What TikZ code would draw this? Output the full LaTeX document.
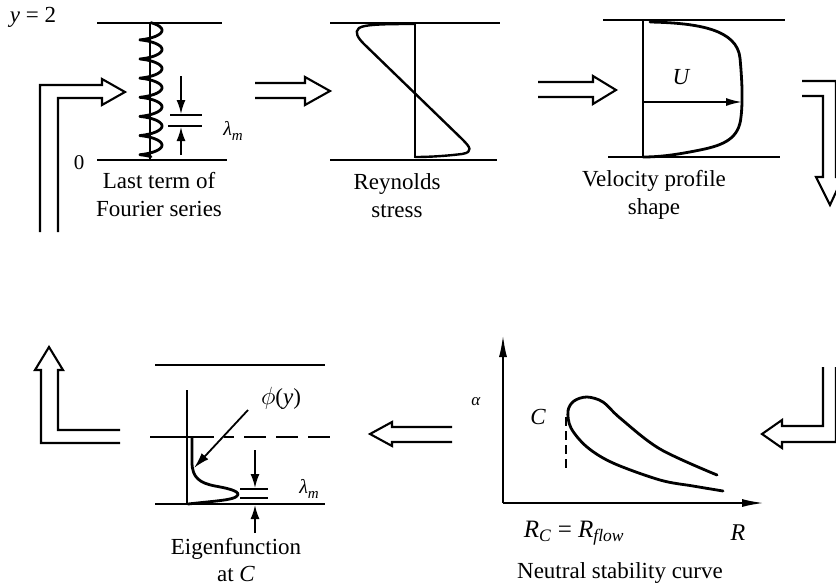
\documentclass[tikz,border=0pt]{standalone}
\usepackage{fontspec}
\setmainfont{Liberation Serif}
\usetikzlibrary{arrows.meta}
\newcommand{\lamm}{\textit{λ}\raisebox{-0.45ex}{\fontsize{15}{15}\selectfont\textit{m}}}
\begin{document}
\begin{tikzpicture}[x=1pt,y=-1pt,
  plate/.style={line width=2pt},
  curve/.style={line width=2.8pt,line cap=round,line join=round},
  hollow/.style={line width=2.1pt,line join=miter},
  lbl/.style={font=\fontsize{23}{28}\selectfont,align=center,inner sep=0pt},
  sym/.style={font=\fontsize{23}{23}\selectfont,inner sep=0pt},
  small/.style={font=\fontsize{20}{20}\selectfont,inner sep=0pt},
  tipline/.style={-{Latex[length=14pt,width=9pt]},line width=1.8pt},
  axis/.style={-{Latex[length=22pt,width=8pt]},line width=2pt}]
\useasboundingbox (0,0) rectangle (836,587);
\clip (0,0) rectangle (836,587);

% ---------------- Panel 1: last term of Fourier series
\draw[plate] (97,23) -- (222,23);
\draw[plate] (97,160) -- (227,160);
\draw[line width=1.8pt] (150,23) -- (150,160);
\draw[curve,line width=2.8pt] plot[domain=0:14*pi,samples=400,variable=\t]
  ({151+11*sin(\t r)},{25.5+134*\t/(14*pi)-2.8*cos(\t r)});
\coordinate (p1a) at (181,76);
\coordinate (p1b) at (181,114);
\coordinate (p1c) at (181,155);
\coordinate (p1d) at (181,127);
\draw[tipline] (p1a) -- (p1b);
\draw[tipline] (p1c) -- (p1d);
\draw[plate] (170,115) -- (202,115);
\draw[plate] (168,126) -- (202,126);
\node[small] (lam1) at (233,131) {\lamm};
\node[sym] (y2) at (33,17) {\textit{y} = 2};
\node[sym,font=\fontsize{21}{21}\selectfont] (zero) at (79,163) {0};
\node[lbl] (t1) at (159,195) {Last term of\\Fourier series};

% ---------------- Panel 2: Reynolds stress
\draw[plate] (330,23) -- (500,23);
\draw[plate] (330,160) -- (497,160);
\draw[line width=1.8pt] (415,23) -- (415,158);
\draw[curve,line width=2.4pt] (415,24) .. controls (390,24) and (365,24) .. (359,28)
  .. controls (354,32) and (358,38) .. (364,44) -- (462,139)
  .. controls (470,147) and (474,152) .. (462,154)
  .. controls (445,156) and (430,157) .. (415,157);
\node[lbl] (t2) at (397,196) {Reynolds\\stress};

% ---------------- Panel 3: velocity profile
\draw[plate] (603,20) -- (785,20);
\draw[plate] (608,157) -- (780,157);
\draw[line width=1.8pt] (643,20) -- (643,157);
\draw[curve] (650,22) .. controls (700,23) and (737,30) .. (740,58)
  .. controls (742,80) and (743,100) .. (741,117)
  .. controls (739,138) and (725,145) .. (700,150)
  .. controls (680,154) and (662,157) .. (643,157);
\coordinate (u0) at (643,102);
\coordinate (u1) at (742,102);
\draw[-{Latex[length=16pt,width=8pt]},line width=1.8pt] (u0) -- (u1);
\node[sym,font=\fontsize{23}{23}\selectfont\itshape] (U) at (681,77) {U};
\node[lbl] (t3) at (654,195) {Velocity profile\\shape};

% ---------------- Hollow arrows
\draw[hollow] (40,232) -- (40,85) -- (102,85) -- (102,79) -- (125,92) -- (102,105)
  -- (102,98) -- (58,98) -- (58,232);
\draw[hollow] (255,83) -- (305,83) -- (305,77) -- (330,91) -- (305,105) -- (305,98) -- (255,98);
\draw[hollow] (538,82) -- (593,82) -- (593,76) -- (616,90) -- (593,104) -- (593,97) -- (538,97);
\draw[hollow] (802,81) -- (836,81) -- (836,177) -- (843,177) -- (830,205) -- (816,177)
  -- (823,177) -- (823,96) -- (802,96);
\draw[hollow] (823,367) -- (823,426) -- (782,426) -- (782,420) -- (762,434) -- (782,448)
  -- (782,442) -- (836,442) -- (836,367);
\draw[hollow] (452,427) -- (392,427) -- (392,422) -- (370,434) -- (392,446) -- (392,442) -- (452,442);
\draw[hollow] (120,443) -- (41,443) -- (41,370) -- (35,370) -- (49,347) -- (63,370)
  -- (58,370) -- (58,430) -- (120,430);

% ---------------- Panel 4: eigenfunction
\draw[plate] (155,365) -- (325,365);
\draw[plate] (150,437) -- (192,437);
\draw[plate,dash pattern=on 22pt off 10pt on 10pt off 10pt on 22pt off 10pt on 22pt off 10pt] (192,437) -- (334,437);
\draw[plate] (155,504) -- (325,504);
\draw[line width=1.8pt] (187,390) -- (187,504);
\draw[curve] (192,438) -- (192,462) .. controls (192,478) and (200,483) .. (215,486)
  .. controls (232,489) and (241,492) .. (237,496)
  .. controls (234,500) and (215,501) .. (188,504);
\coordinate (phiA) at (248,410);
\coordinate (phiB) at (194,468);
\draw[-{Latex[length=16pt,width=9pt]},line width=1.8pt] (phiA) -- (phiB);
\node[sym] (phi) at (281,398) {$\phi$(\textit{y})};
\coordinate (p4a) at (255,450);
\coordinate (p4b) at (255,488);
\coordinate (p4c) at (255,533);
\coordinate (p4d) at (255,505);
\draw[tipline] (p4a) -- (p4b);
\draw[tipline] (p4c) -- (p4d);
\draw[plate] (240,489) -- (268,489);
\draw[plate] (240,498) -- (268,498);
\node[small] (lam2) at (309,489) {\lamm};
\node[lbl,font=\fontsize{23}{27}\selectfont] (t4) at (236,560) {Eigenfunction\\at \textit{C}};

% ---------------- Panel 5: neutral stability curve
\coordinate (O) at (503,503);
\coordinate (Ya) at (503,335);
\coordinate (Xa) at (764,503);
\draw[axis] (O) -- (Ya);
\draw[axis] (O) -- (Xa);
\draw[line width=2pt,dash pattern=on 9pt off 5pt] (566,417) -- (566,468);
\draw[curve] plot[smooth,tension=0.55] coordinates {(717,475) (660,449) (620,418) (603,402)
  (587,397) (574,401) (568,411) (571,428) (587,447) (613,463) (660,480) (693,486) (723,491)};
\node[small,font=\fontsize{17}{17}\selectfont] (alpha) at (476,402) {\textit{α}};
\node[sym,font=\fontsize{23}{23}\selectfont\itshape] (C) at (538,417) {C};
\node[sym,font=\fontsize{25}{25}\selectfont] (RC) at (574,533) {\textit{R}\textsubscript{\textit{C}} = \textit{R}\textsubscript{\textit{flow}}};
\node[sym,font=\fontsize{24}{24}\selectfont\itshape] (R) at (738,533) {R};
\node[lbl] (t5) at (620,573) {Neutral stability curve};
\end{tikzpicture}
\end{document}
